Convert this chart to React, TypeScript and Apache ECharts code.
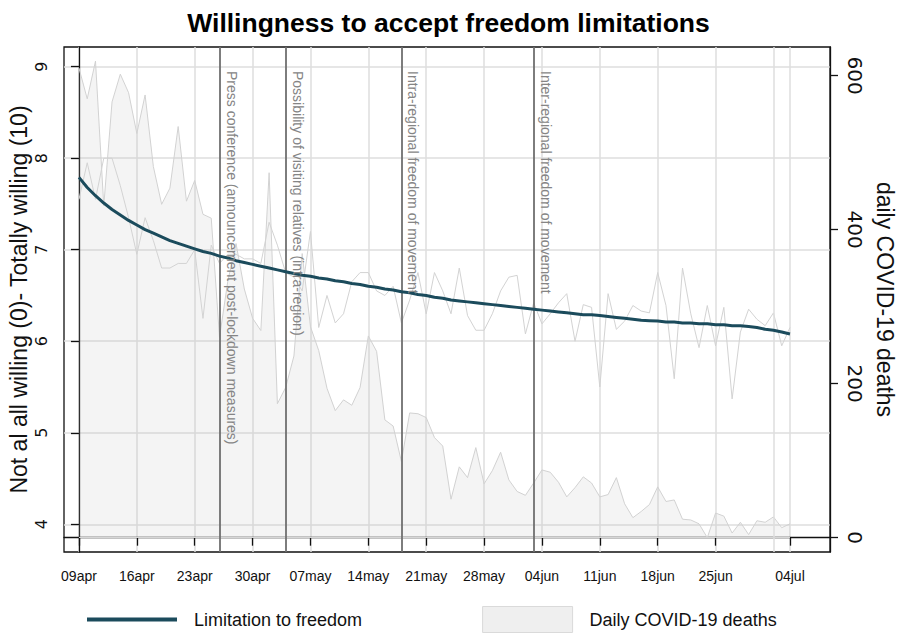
import React, { useEffect, useRef } from 'react';
import * as echarts from 'echarts';

// Day index 0 = 09apr ... 86 = 04jul
const deaths = [
  610, 570, 619, 431, 566, 602, 578, 525, 575, 482,
  433, 454, 534, 437, 464, 420, 415, 260, 333, 382,
  323, 285, 269, 474, 174, 195, 236, 369, 274, 243,
  194, 165, 179, 172, 195, 262, 242, 153, 145, 99,
  162, 161, 156, 130, 119, 50, 92, 78, 117, 70,
  87, 111, 75, 60, 55, 71, 88, 85, 72, 53,
  65, 79, 71, 53, 56, 78, 44, 26, 34, 43,
  66, 47, 49, 24, 23, 18, 0, 32, 28, 6,
  20, 4, 22, 20, 27, 13, 18,
];

const willingnessRaw = [
  7.55, 7.95, 7.55, 8.0, 8.0, 7.7, 7.35, 6.95, 7.35, 7.1,
  6.8, 6.8, 6.85, 6.85, 7.0, 6.25, 7.05, 6.85, 6.95, 6.95,
  6.9, 6.9, 6.85, 7.3, 7.05, 6.75, 6.7, 6.55, 7.2, 6.15,
  6.5, 6.2, 6.3, 6.65, 6.75, 6.75, 6.55, 6.5, 6.6, 6.2,
  6.45, 6.75, 6.3, 6.75, 6.55, 6.3, 6.8, 6.28, 6.12, 6.12,
  6.3, 6.55, 6.7, 6.72, 6.08, 6.42, 6.19, 6.3, 6.42, 6.52,
  6.0, 6.4, 6.37, 5.5, 6.52, 6.13, 6.22, 6.39, 6.33, 6.31,
  6.75, 6.39, 5.59, 6.8, 6.3, 5.93, 6.39, 5.95, 6.37, 5.37,
  6.1, 6.35, 6.24, 6.17, 6.31, 5.95, 6.15,
];

const willingnessFit = [
  7.79, 7.68, 7.59, 7.51, 7.44, 7.38, 7.32, 7.27, 7.22, 7.18,
  7.14, 7.10, 7.07, 7.04, 7.01, 6.98, 6.96, 6.93, 6.91, 6.88,
  6.86, 6.84, 6.82, 6.80, 6.78, 6.76, 6.74, 6.72, 6.71, 6.69,
  6.68, 6.66, 6.65, 6.63, 6.62, 6.60, 6.59, 6.57, 6.56, 6.54,
  6.53, 6.51, 6.50, 6.48, 6.47, 6.45, 6.44, 6.43, 6.42, 6.41,
  6.40, 6.39, 6.38, 6.37, 6.36, 6.35, 6.34, 6.33, 6.32, 6.31,
  6.30, 6.29, 6.29, 6.28, 6.27, 6.26, 6.25, 6.24, 6.23, 6.225,
  6.22, 6.21, 6.21, 6.20, 6.20, 6.19, 6.19, 6.18, 6.18, 6.17,
  6.17, 6.16, 6.15, 6.13, 6.12, 6.10, 6.08,
];

const xTickDays = [0, 7, 14, 21, 28, 35, 42, 49, 56, 63, 70, 77, 86];
const xTickLabels = ['09apr', '16apr', '23apr', '30apr', '07may', '14may', '21may', '28may', '04jun', '11jun', '18jun', '25jun', '04jul'];
const extraGridDays = [84];
const leftTicks = [4, 5, 6, 7, 8, 9];
const rightTicks = [0, 200, 400, 600];

const eventDays = [17, 25, 39, 55];
const eventLabels = [
  'Press conference (announcement post-lockdown measures)',
  'Possibility of visiting relatives (intra-region)',
  'Intra-regional freedom of movement',
  'Inter-regional freedom of movement',
];

const FONT = "'Liberation Sans', Arial, Helvetica, sans-serif";
const WIDE = "'DejaVu Sans', 'Liberation Sans', sans-serif";

export default function App() {
  const ref = useRef<HTMLDivElement>(null);

  useEffect(() => {
    if (!ref.current) return;
    const chart = echarts.init(ref.current, undefined, { renderer: 'svg' });

    const option: any = {
      animation: false,
      backgroundColor: '#ffffff',
      title: {
        text: 'Willingness to accept freedom limitations',
        left: 'center',
        top: 4,
        textStyle: { fontFamily: FONT, fontSize: 26.5, fontWeight: 'bold', color: '#000' },
      },
      grid: {
        left: 64, right: 67, top: 47, bottom: 81,
        outerBoundsMode: 'none',
        containLabel: false,
        show: true, borderColor: '#111', borderWidth: 1.3, backgroundColor: 'transparent',
      },
      legend: {
        left: 85,
        top: 606,
        padding: 0,
        itemWidth: 90,
        itemHeight: 26,
        itemGap: 120,
        textStyle: { fontFamily: FONT, fontSize: 18, color: '#111', padding: [0, 0, 0, 12] },
        data: [
          { name: 'Limitation to freedom', itemStyle: { opacity: 0 }, lineStyle: { width: 4, color: '#1b4b5c' } },
          { name: 'Daily COVID-19 deaths', icon: 'rect', itemStyle: { color: '#efefef', borderColor: '#dadada', borderWidth: 1 } },
        ],
      },
      xAxis: {
        type: 'value',
        min: -1.81,
        max: 90.84,
        axisLine: { show: true, lineStyle: { color: '#111', width: 1.3 } },
        axisTick: { show: true, length: 8, lineStyle: { color: '#111', width: 1.3 }, customValues: xTickDays },
        axisLabel: {
          customValues: xTickDays,
          margin: 17,
          fontFamily: FONT,
          fontSize: 14,
          color: '#111',
          formatter: (v: number) => {
            const i = xTickDays.indexOf(Math.round(v));
            return i >= 0 ? xTickLabels[i] : '';
          },
        },
        splitLine: { show: true, lineStyle: { color: '#dedede', width: 1.5 } },
      },
      yAxis: [
        {
          type: 'value',
          position: 'left',
          min: 3.697,
          max: 9.215,
          name: 'Not al all willing (0)- Totally willing (10)',
          nameLocation: 'middle',
          nameRotate: 90,
          nameGap: 34,
          nameMoveOverlap: false,
          nameTextStyle: { fontFamily: FONT, fontSize: 23, lineHeight: 23, color: '#111' },
          axisLine: { show: true, lineStyle: { color: '#111', width: 1.3 } },
          axisTick: { show: true, length: 8, lineStyle: { color: '#111', width: 1.3 }, customValues: leftTicks },
          axisLabel: { customValues: leftTicks, rotate: 90, margin: 15, fontFamily: WIDE, fontSize: 16, color: '#111' },
          splitLine: { show: true, lineStyle: { color: '#dedede', width: 1.5 } },
        },
        {
          type: 'value',
          position: 'right',
          min: -18.6,
          max: 637.3,
          name: 'daily COVID-19 deaths',
          nameLocation: 'middle',
          nameRotate: -90,
          nameGap: 44,
          nameMoveOverlap: false,
          nameTextStyle: { fontFamily: FONT, fontSize: 23, lineHeight: 22, color: '#111' },
          axisLine: { show: true, lineStyle: { color: '#111', width: 1.3 } },
          axisTick: { show: true, length: 8, lineStyle: { color: '#111', width: 1.3 }, customValues: rightTicks },
          axisLabel: { customValues: rightTicks, rotate: -90, margin: 15, fontFamily: WIDE, fontSize: 20, color: '#111' },
          splitLine: { show: false },
        },
      ],
      series: [
        {
          name: 'Daily COVID-19 deaths',
          type: 'line',
          yAxisIndex: 1,
          symbol: 'none',
          data: deaths.map((v, i) => [i, v]),
          lineStyle: { color: '#d2d2d2', width: 1 },
          itemStyle: { color: '#efefef' },
          areaStyle: { color: 'rgba(190,190,190,0.25)' },
          z: 1,
          markLine: {
            silent: true,
            symbol: 'none',
            label: { show: false },
            data: [
              ...extraGridDays.map((d) => ({ xAxis: d, lineStyle: { color: '#dedede', width: 1.5, type: 'solid' } })),
              [{ coord: [0, 0] }, { coord: [deaths.length - 1, 0], lineStyle: { color: '#d6d6d6', width: 1, type: 'solid' } }],
              ...eventDays.map((d) => ({ xAxis: d, lineStyle: { color: '#6f6f6f', width: 1.8, type: 'solid' } })),
            ],
          },
        },
        {
          name: 'Limitation raw',
          type: 'line',
          yAxisIndex: 0,
          symbol: 'none',
          data: willingnessRaw.map((v, i) => [i, v]),
          lineStyle: { color: '#d3d3d3', width: 1 },
          itemStyle: { color: '#d3d3d3' },
          z: 2,
        },
        {
          name: 'Limitation to freedom',
          type: 'line',
          yAxisIndex: 0,
          symbol: 'none',
          data: willingnessFit.map((v, i) => [i, v]),
          lineStyle: { color: '#1b4b5c', width: 3 },
          itemStyle: { color: '#1b4b5c' },
          z: 5,
        },
      ],
    };

    chart.setOption(option);

    const topY = chart.convertToPixel({ yAxisIndex: 0 }, 9.215) as number;
    chart.setOption({
      graphic: eventDays.map((d, i) => {
        const x = chart.convertToPixel({ xAxisIndex: 0 }, d) as number;
        return {
          type: 'text',
          x: x + 5,
          y: topY + 24,
          rotation: -Math.PI / 2,
          silent: true,
          z: 10,
          style: {
            text: eventLabels[i],
            fontFamily: FONT,
            fontSize: 14,
            fill: '#858585',
            align: 'left',
            verticalAlign: 'bottom',
          },
        };
      }),
    });

    return () => chart.dispose();
  }, []);

  return (
    <div
      ref={ref}
      style={{ position: 'fixed', left: 0, top: 0, width: 897, height: 633, background: '#fff' }}
    />
  );
}
